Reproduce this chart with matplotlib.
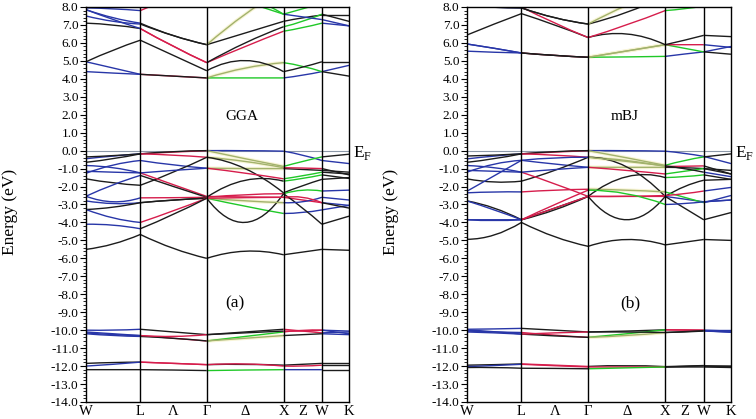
import matplotlib
matplotlib.use("Agg")
import matplotlib.pyplot as plt
from matplotlib.path import Path
from matplotlib.patches import PathPatch
from matplotlib.ticker import MultipleLocator, FormatStrFormatter

plt.rcParams['font.family'] = ['Liberation Serif', 'DejaVu Serif']
plt.rcParams['axes.unicode_minus'] = False
plt.rcParams['mathtext.fontset'] = 'custom'
plt.rcParams['mathtext.rm'] = 'Liberation Serif'

# k-path W - L - Γ - X - W - K (distances in 2π/a), sample points incl. midpoints
k_nodes = [0.0, 0.354, 0.707, 1.140, 1.573, 2.073, 2.573, 2.823, 3.073, 3.427]
k_tick_pos = [0.0, 0.707, 1.140, 1.573, 2.073, 2.573, 2.823, 3.073, 3.427]
k_tick_labels = ['W', 'L', 'Λ', 'Γ', 'Δ', 'X', 'Z', 'W', 'K']
k_lines = [0.707, 1.573, 2.573, 3.073]

# energies (eV) at k_nodes; one colour code per segment
# segments: W-L, L-Γ, Γ-X, X-W, W-K
gga_bands = [
    # conduction
    [4.40, 4.32, 4.25, 4.15, 4.05, 4.05, 4.05, 4.20, 4.40, 4.75],
    [4.95, 4.60, 4.25, 4.15, 4.05, 4.60, 4.90, 4.70, 4.40, 4.15],
    [4.95, 5.60, 6.15, 5.30, 4.45, 5.02, 4.40, 4.65, 4.95, 4.95],
    [7.10, 7.00, 6.80, 5.80, 4.90, 5.80, 6.65, 6.85, 7.10, 6.95],
    [7.50, 7.20, 7.05, 6.40, 5.90, 6.55, 7.20, 7.40, 7.55, 7.55],
    [7.85, 7.40, 7.10, 6.40, 5.90, 7.60, 9.00, 9.00, 9.00, 9.00],
    [7.85, 7.30, 6.80, 5.80, 4.90, 6.00, 6.90, 7.20, 7.60, 7.20],
    [7.95, 7.90, 7.80, 8.50, 9.00, 8.60, 7.60, 7.90, 8.20, 8.50],
    [9.00, 9.00, 9.00, 9.00, 9.00, 8.30, 7.60, 7.45, 7.30, 6.95],
    # valence
    [-0.45, -0.30, -0.18, -0.08, 0.00, 0.00, -0.03, -0.25, -0.55, -0.72],
    [-0.35, -0.28, -0.18, -0.05, 0.00, -0.45, -0.88, -0.60, -0.35, -0.20],
    [-1.26, -0.80, -0.55, -0.80, -0.98, -1.00, -1.00, -1.05, -1.10, -1.20],
    [-0.65, -0.45, -0.18, -0.25, -0.37, -0.60, -0.95, -0.97, -1.00, -1.35],
    [-1.57, -1.80, -1.93, -1.20, -0.37, -1.00, -2.35, -1.95, -1.60, -1.50],
    [-0.83, -0.95, -1.24, -1.90, -2.55, -2.58, -2.60, -2.75, -2.90, -3.05],
    [-1.15, -1.20, -1.24, -1.10, -0.98, -1.25, -1.57, -1.40, -1.20, -1.30],
    [-2.54, -1.90, -1.38, -2.00, -2.60, -1.65, -1.70, -1.55, -1.35, -1.55],
    [-2.54, -2.85, -2.63, -2.62, -2.60, -2.45, -2.40, -2.20, -2.25, -2.20],
    [-2.80, -2.95, -2.90, -2.75, -2.65, -3.10, -3.50, -3.45, -3.30, -3.05],
    [-3.28, -3.15, -2.90, -2.75, -2.65, -4.00, -2.40, -3.20, -4.10, -3.65],
    [-3.28, -3.75, -4.00, -3.35, -2.65, -2.80, -2.90, -2.85, -2.60, -2.75],
    [-4.10, -4.15, -4.35, -3.55, -2.65, -2.62, -2.60, -2.60, -2.90, -3.20],
    [-5.50, -5.20, -4.67, -5.45, -6.00, -5.60, -5.80, -5.65, -5.50, -5.55],
    # semicore
    [-10.00, -10.00, -9.95, -10.10, -10.25, -10.10, -9.95, -10.05, -10.15, -10.10],
    [-10.10, -10.20, -10.30, -10.45, -10.60, -10.35, -10.10, -10.00, -10.00, -10.05],
    [-10.20, -10.30, -10.35, -10.45, -10.60, -10.45, -10.30, -10.25, -10.20, -10.25],
    [-10.15, -10.25, -10.30, -10.35, -10.25, -10.15, -10.05, -10.05, -10.00, -10.20],
    [-11.85, -11.80, -11.78, -11.85, -11.92, -11.90, -11.95, -11.90, -11.85, -11.85],
    [-12.00, -11.90, -11.78, -11.85, -11.92, -11.88, -12.00, -12.00, -11.95, -11.95],
    [-12.20, -12.20, -12.20, -12.22, -12.25, -12.22, -12.20, -12.20, -12.20, -12.20],
]
gga_colors = [
    "brgbb", "bkogk", "kkkkk", "krrgb", "bkkkk", "bkokk", "brkgk", "brggr", "kkgbb",
    "brbbb", "kkogk", "bbokk", "krork", "kkkkk", "brrrb", "bbrgk", "bkkgk", "brrgb",
    "bkgbb", "kkkkk", "brobb", "bkrrk", "kkkkk",
    "bkkrb", "brgrb", "bkokb", "brkrb", "krkkk", "brrrk", "kkgbk",
]

mbj_bands = [
    # conduction
    [5.54, 5.48, 5.44, 5.30, 5.20, 5.22, 5.25, 5.38, 5.50, 5.80],
    [5.94, 5.70, 5.44, 5.30, 5.20, 5.55, 5.90, 5.70, 5.50, 5.37],
    [5.94, 5.70, 5.44, 5.30, 5.20, 5.55, 5.90, 5.90, 5.90, 5.75],
    [6.44, 7.05, 7.63, 7.00, 6.30, 6.50, 5.90, 6.15, 6.42, 6.35],
    [8.10, 8.30, 8.00, 7.10, 6.30, 7.00, 7.80, 7.90, 8.05, 8.30],
    [8.05, 7.98, 7.95, 7.40, 7.05, 7.70, 8.60, 9.00, 9.00, 9.00],
    [8.05, 7.98, 7.95, 7.40, 7.05, 8.10, 9.00, 9.00, 9.00, 9.00],
    # valence
    [-0.46, -0.30, -0.18, -0.08, 0.00, 0.00, -0.03, -0.15, -0.32, -0.72],
    [-0.30, -0.25, -0.18, -0.05, 0.00, -0.40, -0.82, -0.55, -0.35, -0.18],
    [-1.20, -0.75, -0.54, -0.75, -0.93, -0.93, -0.93, -0.95, -1.00, -1.10],
    [-0.65, -0.45, -0.18, -0.25, -0.37, -0.55, -0.88, -0.87, -0.85, -1.30],
    [-1.57, -1.75, -1.70, -1.10, -0.37, -0.90, -2.55, -2.00, -1.65, -1.60],
    [-0.83, -0.95, -1.20, -1.85, -2.55, -2.55, -2.55, -2.70, -2.85, -2.75],
    [-1.10, -1.15, -1.20, -1.05, -0.93, -1.10, -1.30, -1.15, -1.00, -1.30],
    [-2.26, -1.40, -0.54, -0.40, -0.37, -0.60, -0.85, -1.00, -1.20, -1.45],
    [-2.35, -2.30, -2.30, -2.20, -2.15, -2.20, -2.30, -2.60, -2.90, -2.50],
    [-2.80, -3.20, -3.85, -3.20, -2.55, -1.45, -1.50, -1.45, -1.35, -1.60],
    [-2.80, -3.30, -3.85, -3.30, -2.55, -3.85, -2.55, -3.20, -3.85, -3.45],
    [-3.85, -3.85, -3.85, -3.20, -2.55, -2.55, -2.50, -2.40, -2.25, -2.05],
    [-3.85, -3.90, -3.85, -3.00, -2.20, -2.40, -3.00, -2.95, -2.85, -2.75],
    [-4.94, -4.70, -4.00, -4.80, -5.33, -4.95, -5.25, -5.10, -4.95, -5.00],
    # semicore
    [-9.95, -9.93, -9.90, -10.00, -10.10, -10.05, -9.98, -10.00, -10.00, -10.00],
    [-10.05, -10.10, -10.13, -10.28, -10.40, -10.20, -9.98, -9.98, -10.00, -10.05],
    [-10.10, -10.15, -10.22, -10.32, -10.40, -10.30, -10.13, -10.10, -10.05, -10.10],
    [-10.00, -10.08, -10.22, -10.15, -10.10, -10.10, -10.13, -10.08, -10.03, -10.12],
    [-11.95, -11.92, -11.88, -11.95, -12.02, -11.97, -12.03, -12.00, -11.97, -11.97],
    [-12.03, -11.97, -11.90, -11.98, -12.05, -12.05, -12.05, -12.02, -11.98, -12.00],
    [-12.08, -12.08, -12.12, -12.13, -12.15, -12.10, -12.05, -12.05, -12.05, -12.08],
]
mbj_colors = [
    "brgbb", "bkogk", "bkorb", "kkkkk", "krrgk", "bkkkk", "kkokk",
    "brbbb", "kkogk", "bbokk", "krork", "kkkkk", "brrbb", "bbrgk", "bbokb",
    "brogb", "kkkgk", "bkkkk", "brrrb", "brgbb", "kkkkk",
    "bkkrb", "brgrb", "bkokb", "brkkb", "krkkk", "brrkk", "kkgkk",
]

color_map = {'k': '#1c1c1c', 'b': '#2836a8', 'r': '#d61d4c',
             'g': '#20c828', 'o': '#a2b26c'}
seg_nodes = [(0, 1, 2), (2, 3, 4), (4, 5, 6), (6, 7, 8), (8, 9)]


def draw_band(ax, energies, codes):
    for seg, c in zip(seg_nodes, codes):
        pts = [(k_nodes[i], energies[i]) for i in seg]
        if len(pts) == 3:
            # quadratic curve passing through the midpoint value
            (k0, e0), (k1, e1), (k2, e2) = pts
            verts = [pts[0], (k1, 2 * e1 - 0.5 * (e0 + e2)), pts[2]]
            path = Path(verts, [Path.MOVETO, Path.CURVE3, Path.CURVE3])
        else:
            path = Path(pts, [Path.MOVETO, Path.LINETO])
        if c == 'o':
            # faint yellow halo around the olive bands
            ax.add_patch(PathPatch(path, fill=False, ec='#f8f4d6', lw=2.6, zorder=1))
        ax.add_patch(PathPatch(path, fill=False, ec=color_map[c], lw=1.0, zorder=2))


def draw_panel(ax, bands, colors, name, tag, name_pos, tag_pos):
    ax.axhline(0, color='#8c98a8', lw=0.8, zorder=1)
    for band, codes in zip(bands, colors):
        draw_band(ax, band, codes)
    for k in k_lines:
        ax.axvline(k, color='black', lw=1.0, zorder=3)
    ax.set_xlim(k_nodes[0], k_nodes[-1])
    ax.set_ylim(-14, 8)
    ax.yaxis.set_major_locator(MultipleLocator(1))
    ax.yaxis.set_minor_locator(MultipleLocator(0.2))
    ax.yaxis.set_major_formatter(FormatStrFormatter('%.1f'))
    ax.tick_params(axis='y', which='major', direction='out', length=4, width=0.8,
                   labelsize=9.5, pad=1.5)
    ax.tick_params(axis='y', which='minor', direction='out', length=2.2, width=0.6)
    ax.set_xticks(k_tick_pos, k_tick_labels)
    ax.tick_params(axis='x', length=0, labelsize=10.5, pad=2)
    for s in ax.spines.values():
        s.set_linewidth(1.0)
        s.set_zorder(4)
    ax.text(name_pos[0], name_pos[1], name, ha='center', va='center', fontsize=11)
    ax.text(tag_pos[0], tag_pos[1], tag, ha='center', va='center', fontsize=12.5)
    ax.text(1.015, -0.15, r'E$_\mathrm{F}$', transform=ax.get_yaxis_transform(),
            ha='left', va='center', fontsize=12.5, clip_on=False)


fig = plt.figure(figsize=(7.56, 4.19), dpi=100)
ax1 = fig.add_axes([0.1138, 0.0406, 0.3479, 0.9427])
ax2 = fig.add_axes([0.6177, 0.0406, 0.3492, 0.9427])

draw_panel(ax1, gga_bands, gga_colors, 'GGA', '(a)', (2.03, 1.9), (1.94, -8.5))
draw_panel(ax2, mbj_bands, mbj_colors, 'mBJ', '(b)', (2.05, 1.9), (2.12, -8.5))

fig.text(10 / 756, 0.494, 'Energy (eV)', rotation=90, ha='center', va='center', fontsize=12.5)
fig.text(391 / 756, 0.494, 'Energy (eV)', rotation=90, ha='center', va='center', fontsize=12.5)

fig.savefig('out.png', dpi=100)
